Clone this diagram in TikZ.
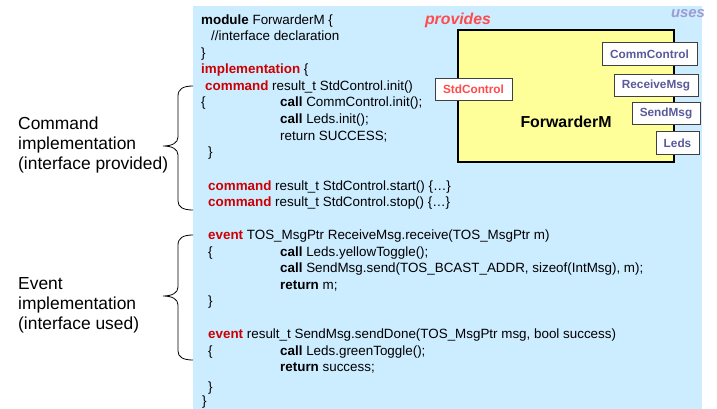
\documentclass[tikz,border=0pt]{standalone}
\usepackage{fontspec}
\setmainfont{Liberation Sans}
\usetikzlibrary{positioning}

\definecolor{panelblue}{HTML}{CCECFF}
\definecolor{kwred}{HTML}{CC0000}
\definecolor{boxyellow}{HTML}{FFFF99}
\definecolor{provred}{HTML}{FF4B4B}
\definecolor{usesblue}{HTML}{9C9CD0}
\definecolor{ifblue}{HTML}{5A5A9A}

\newcommand{\kw}[1]{\textcolor{kwred}{\textbf{#1}}}

\tikzset{
	code/.style={anchor=base west, inner sep=0pt, font=\fontsize{13.4}{16}\selectfont},
	side/.style={anchor=west, align=left, inner sep=0pt, font=\fontsize{17.4}{20}\selectfont},
	iface/.style={draw=black!75, fill=white, line width=0.9pt, inner sep=0pt,
		minimum height=22.5pt, font=\bfseries\fontsize{11.8}{14}\selectfont, text=ifblue},
	brace/.style={line width=0.8pt}
}

\begin{document}
\begin{tikzpicture}[x=1pt,y=-1pt]

\useasboundingbox (0,0) rectangle (717,409);

%blue panel behind the code
\fill[panelblue] (193,6) rectangle (702,409);

%module header
\node[code] (mod)  at (201,25)  {\textbf{module} ForwarderM \{};
\node[code] (decl) at (211,41)  {//interface declaration};
\node[code] (modc) at (201,58)  {\}};
\node[code] (impl) at (201,74)  {\kw{implementation} \{};

%command implementation
\node[code] (init)  at (205,91)  {\kw{command} result\_t StdControl.init()};
\node[code] (ibr)   at (201,107) {\{};
\node[code] (icall) at (280,107) {\textbf{call} CommControl.init();};
\node[code] (ileds) at (280,124) {\textbf{call} Leds.init();};
\node[code] (iret)  at (280,140) {return SUCCESS;};
\node[code] (iend)  at (208,157) {\}};
\node[code] (start) at (208,190) {\kw{command} result\_t StdControl.start() \{\dots\}};
\node[code] (stop)  at (208,206) {\kw{command} result\_t StdControl.stop() \{\dots\}};

%event implementation
\node[code] (recv)  at (208,239) {\kw{event} TOS\_MsgPtr ReceiveMsg.receive(TOS\_MsgPtr m)};
\node[code] (rbr)   at (208,256) {\{};
\node[code] (rtog)  at (280,256) {\textbf{call} Leds.yellowToggle();};
\node[code] (rsend) at (280,272) {\textbf{call} SendMsg.send(TOS\_BCAST\_ADDR, sizeof(IntMsg), m);};
\node[code] (rret)  at (280,289) {\textbf{return} m;};
\node[code] (rend)  at (208,305) {\}};
\node[code] (done)  at (208,338) {\kw{event} result\_t SendMsg.sendDone(TOS\_MsgPtr msg, bool success)};
\node[code] (dbr)   at (208,355) {\{};
\node[code] (dtog)  at (280,355) {\textbf{call} Leds.greenToggle();};
\node[code] (dret)  at (280,371) {\textbf{return} success;};
\node[code] (dend)  at (208,391) {\}};
\node[code] (implc) at (202,405) {\}};

%component box
\node[draw=black, fill=boxyellow, line width=1.4pt, minimum width=216pt, minimum height=132pt,
	font=\bfseries\fontsize{15.9}{18}\selectfont] (fwd) at (566,96) {};
\node[font=\bfseries\fontsize{15.9}{18}\selectfont] (fwdname) at (566,122) {ForwarderM};

%provided / used interfaces
\node[iface, text=provred, minimum width=77pt] (std)  at (473.5,89.5) {StdControl};
\node[iface, minimum width=95pt] (comm) at (649.5,54)  {CommControl};
\node[iface, minimum width=84pt] (rmsg) at (656,85.5)  {ReceiveMsg};
\node[iface, minimum width=68pt] (smsg) at (666,113.5) {SendMsg};
\node[iface, minimum width=43pt] (leds) at (677.5,143) {Leds};

\node[font=\bfseries\itshape\fontsize{15.8}{18}\selectfont, text=provred] (prov) at (458,20) {provides};
\node[font=\bfseries\itshape\fontsize{14.9}{17}\selectfont, text=usesblue] (uses) at (688,14) {uses};

%braces
\draw[brace] (193,86) .. controls (183,86) and (178,89) .. (178,96) -- (178,137)
	.. controls (178,143) and (172,146) .. (163,146)
	.. controls (172,146) and (178,149) .. (178,155) -- (178,201)
	.. controls (178,207) and (183,210) .. (193,210);
\draw[brace] (193,235) .. controls (183,235) and (178,238) .. (178,245) -- (178,287)
	.. controls (178,293) and (172,296) .. (163,296)
	.. controls (172,296) and (178,299) .. (178,305) -- (178,351)
	.. controls (178,357) and (183,360) .. (193,360);

%side labels
\node[side] (cmdlbl) at (18,145) {Command\\implementation\\(interface provided)};
\node[side] (evtlbl) at (18,305) {Event\\implementation\\(interface used)};

\end{tikzpicture}
\end{document}
